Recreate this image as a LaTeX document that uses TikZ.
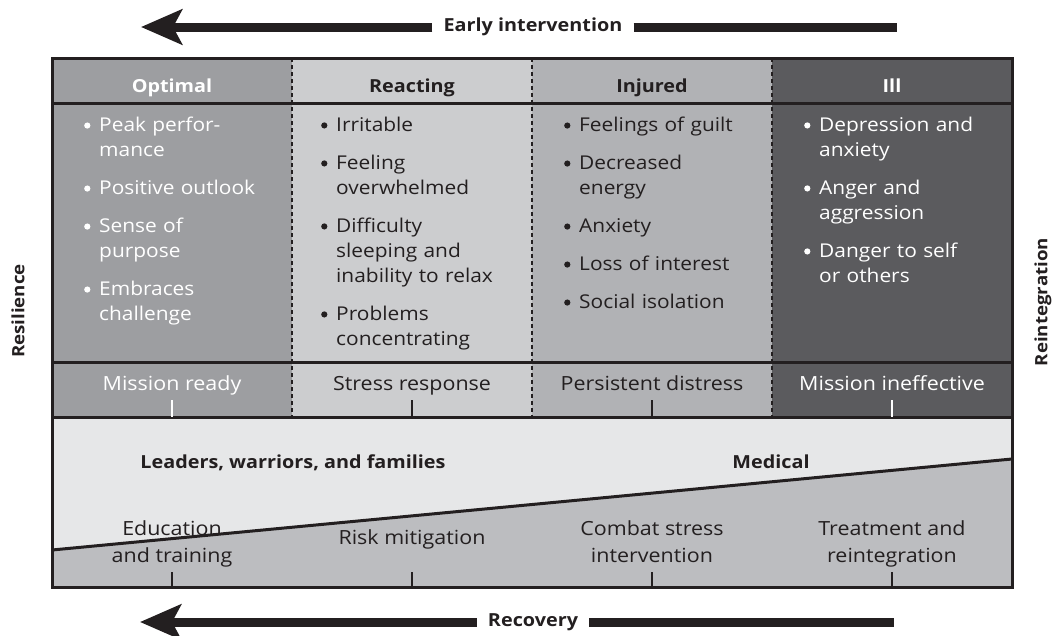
\documentclass[tikz,border=0pt]{standalone}
\usepackage{fontspec}
\setmainfont{Open Sans}[FakeStretch=1.1]
\usetikzlibrary{arrows.meta}

\definecolor{ink}{RGB}{35,31,32}
\definecolor{optimalgray}{RGB}{157,158,161}
\definecolor{reactgray}{RGB}{204,205,207}
\definecolor{injuredgray}{RGB}{177,178,181}
\definecolor{illgray}{RGB}{91,91,94}
\definecolor{bandlight}{RGB}{230,231,232}
\definecolor{banddark}{RGB}{188,189,192}

\newcommand{\dotmark}{\tikz[baseline=0pt]\fill[fill=.] (3.2pt,6.2pt) circle[radius=3.1pt];}
\newcommand{\bitem}[1]{\hangindent=15pt\hangafter=1\noindent\hbox to 15pt{\dotmark\hfil}#1\par}

\begin{document}
\begin{tikzpicture} [
        x=1pt, y=-1pt,
        head/.style={anchor=base, font=\fontsize{18}{22}\selectfont\bfseries},
        body/.style={anchor=north west, inner sep=0pt, text width=210pt, align=left,
            font=\fontsize{19}{25}\selectfont\setlength{\parskip}{13pt}},
        state/.style={anchor=base, font=\fontsize{19.5}{22}\selectfont},
        band/.style={anchor=base, text=ink, font=\fontsize{18}{22}\selectfont\bfseries},
        act/.style={text=ink, align=center, font=\fontsize{19.5}{27}\selectfont},
        side/.style={text=ink, rotate=90, font=\fontsize{17}{20}\selectfont\bfseries},
        arrowlabel/.style={text=ink, inner xsep=11pt, font=\fontsize{18}{22}\selectfont\bfseries},
        bigline/.style={draw=ink, line width=9pt},
        bigarrow/.style={bigline, -{Stealth[length=41pt, width=35pt, inset=9pt]}},
        rule/.style={draw=ink, line width=3pt},
        divider/.style={draw=ink, line width=1.5pt, dash pattern=on 4pt off 3pt},
        tick/.style={line width=1.5pt} ]
    \useasboundingbox (0,0) rectangle (1055,635);

    % column fills
    \fill[optimalgray] (52,58) rectangle (292,417);
    \fill[reactgray] (292,58) rectangle (532,417);
    \fill[injuredgray] (532,58) rectangle (772,417);
    \fill[illgray] (772,58) rectangle (1012,417);
    \fill[bandlight] (52,417) rectangle (1012,587);
    \fill[banddark] (52,550) -- (1012,459) -- (1012,587) -- (52,587) -- cycle;

    \draw[rule] (52,103) -- (1012,103);
    \draw[rule] (52,362) -- (1012,362);
    \draw[rule] (52,417) -- (1012,417);
    \draw[divider] (292,58) -- (292,417);
    \draw[divider] (532,58) -- (532,417);
    \draw[divider] (772,58) -- (772,417);
    \draw[rule] (52,550) -- (1012,459);
    \draw[rule] (52,58) rectangle (1012,587);

    \node[head, text=white] (hopt) at (172,92) {Optimal};
    \node[head, text=ink] (hreact) at (412,92) {Reacting};
    \node[head, text=ink] (hinj) at (652,92) {Injured};
    \node[head, text=white] (hill) at (892,92) {Ill};

    \node[body, text=white] (bopt) at (84,117) {%
        \bitem{Peak perfor-\newline mance}
        \bitem{Positive outlook}
        \bitem{Sense of\newline purpose}
        \bitem{Embraces\newline challenge}};
    \node[body, text=ink] (breact) at (321,117) {%
        \bitem{Irritable}
        \bitem{Feeling\newline overwhelmed}
        \bitem{Difficulty\newline sleeping and\newline inability to relax}
        \bitem{Problems\newline concentrating}};
    \node[body, text=ink] (binj) at (564,117) {%
        \bitem{Feelings of guilt}
        \bitem{Decreased\newline energy}
        \bitem{Anxiety}
        \bitem{Loss of interest}
        \bitem{Social isolation}};
    \node[body, text=white] (bill) at (804,117) {%
        \bitem{Depression and\newline anxiety}
        \bitem{Anger and\newline aggression}
        \bitem{Danger to self\newline or others}};

    \node[state, text=white] (sopt) at (172,390) {Mission ready};
    \node[state, text=ink] (sreact) at (412,390) {Stress response};
    \node[state, text=ink] (sinj) at (652,390) {Persistent distress};
    \node[state, text=white] (sill) at (892,390) {Mission ineffective};
    \foreach \x/\c in {172/white, 412/ink, 652/ink, 892/white}
        \draw[tick, draw=\c] (\x,400) -- (\x,417);

    \node[band] (leaders) at (293,468) {Leaders, warriors, and families};
    \node[band] (medical) at (771,468) {Medical};

    \node[act] (edu) at (172,544) {\strut Education\\\strut and training};
    \node[act] (risk) at (412,539) {\strut Risk mitigation};
    \node[act] (combat) at (652,544) {\strut Combat stress\\\strut intervention};
    \node[act] (treat) at (892,544) {\strut Treatment and\\\strut reintegration};
    \foreach \x in {172, 412, 652, 892}
        \draw[tick, draw=ink] (\x,572) -- (\x,587);

    \node[side] (resil) at (18,311) {Resilience};
    \node[side] (reint) at (1043,302) {Reintegration};

    \coordinate (eitip) at (141,27);
    \coordinate (eiend) at (897,27);
    \node[arrowlabel] (ei) at (533,27) {Early intervention};
    \draw[bigarrow] (ei.west) -- (eitip);
    \draw[bigline] (ei.east) -- (eiend);

    \coordinate (rectip) at (140,622);
    \coordinate (recend) at (894,622);
    \node[arrowlabel] (rec) at (533,622) {Recovery};
    \draw[bigarrow] (rec.west) -- (rectip);
    \draw[bigline] (rec.east) -- (recend);
\end{tikzpicture}
\end{document}
